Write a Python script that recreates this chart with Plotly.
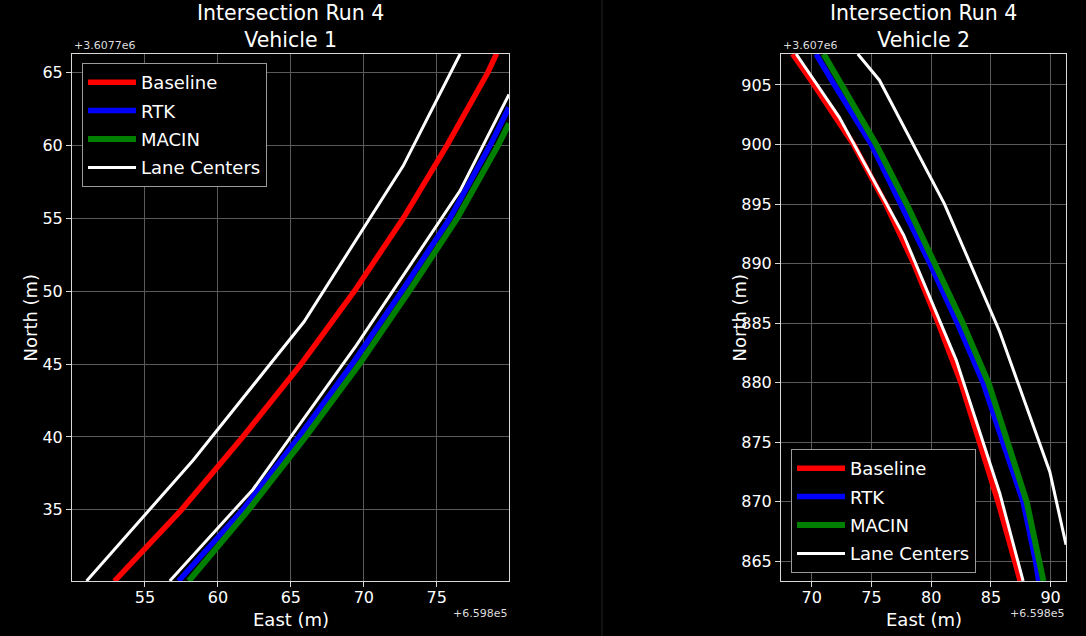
import plotly.graph_objects as go

W, H = 1086, 636

# ---------------- data (offsets: East +6.598e5, North as noted) ----------------
# Vehicle 1 (North offset +3.6077e6)
v1_base_e = [52.9, 57.5, 61.7, 65.7, 69.35, 72.7, 75.7, 78.5, 79.1]
v1_base_n = [30.1, 35.0, 40.0, 45.0, 50.0, 55.0, 60.0, 65.0, 66.3]
v1_rtk_e = [57.3, 61.7, 65.55, 69.2, 72.6, 75.9, 78.65, 79.95]
v1_rtk_n = [30.12, 35.0, 40.0, 45.0, 50.0, 55.0, 60.0, 62.6]
v1_macin_e = [58.0, 62.1, 66.0, 69.7, 73.1, 76.4, 79.2, 79.95]
v1_macin_n = [30.12, 35.0, 40.0, 45.0, 50.0, 55.0, 60.0, 61.5]
v1_lane1_e = [51.0, 58.3, 65.9, 72.7, 76.6]
v1_lane1_n = [30.12, 38.4, 47.9, 58.6, 66.27]
v1_lane2_e = [56.7, 62.4, 69.5, 76.6, 79.95]
v1_lane2_n = [30.12, 36.4, 46.3, 56.9, 63.5]

# Vehicle 2 (North offset +3.607e6)
v2_base_e = [68.4, 70.2, 73.5, 76.2, 78.55, 80.6, 82.5, 84.1, 85.6, 87.0, 87.45]
v2_base_n = [907.6, 905, 900, 895, 890, 885, 880, 875, 870, 865, 863.35]
v2_rtk_e = [70.36, 71.9, 75.0, 77.5, 79.9, 82.2, 84.35, 86.0, 87.7, 88.75, 89.0]
v2_rtk_n = [907.6, 905, 900, 895, 890, 885, 880, 875, 870, 865, 863.35]
v2_macin_e = [71.0, 72.5, 75.4, 77.95, 80.35, 82.65, 84.8, 86.4, 88.0, 89.05, 89.4]
v2_macin_n = [907.6, 905, 900, 895, 890, 885, 880, 875, 870, 865, 863.35]
v2_lane1_e = [68.7, 72.3, 77.7, 82.1, 85.75, 87.7]
v2_lane1_n = [907.6, 902.3, 892.4, 881.9, 870.7, 863.35]
v2_lane2_e = [73.86, 75.67, 81.12, 85.73, 89.94, 91.29]
v2_lane2_n = [907.6, 905.4, 895.0, 884.3, 872.5, 866.4]

series_names = ["Baseline", "RTK", "MACIN", "Lane Centers"]
series_colors = ["#ff0000", "#0000ff", "#008000", "#ffffff"]
series_widths = [5.5, 5.5, 6, 3]

v1_x_ticks = [55, 60, 65, 70, 75]
v1_y_ticks = [35, 40, 45, 50, 55, 60, 65]
v2_x_ticks = [70, 75, 80, 85, 90]
v2_y_ticks = [865, 870, 875, 880, 885, 890, 895, 900, 905]

titles = ["Intersection Run 4<br>Vehicle 1", "Intersection Run 4<br>Vehicle 2"]
x_offset_text = "+6.598e5"
y_offset_texts = ["+3.6077e6", "+3.607e6"]

# ---------------- figure ----------------
FONT = "DejaVu Sans"
fig = go.Figure()

def add_vehicle(data, xa, ya, legend):
    for i, (xs, ys) in enumerate(data[:3]):
        fig.add_trace(go.Scatter(
            x=xs, y=ys, mode="lines", name=series_names[i],
            line=dict(color=series_colors[i], width=series_widths[i]),
            xaxis=xa, yaxis=ya, legend=legend, legendgroup=legend + str(i)))
    lanes = data[3:]
    for j, (xs, ys) in enumerate(lanes):
        fig.add_trace(go.Scatter(
            x=xs, y=ys, mode="lines", name=series_names[3],
            line=dict(color=series_colors[3], width=series_widths[3]),
            xaxis=xa, yaxis=ya, legend=legend, legendgroup=legend + "3",
            showlegend=(j == 0)))

add_vehicle([(v1_base_e, v1_base_n), (v1_rtk_e, v1_rtk_n), (v1_macin_e, v1_macin_n),
             (v1_lane1_e, v1_lane1_n), (v1_lane2_e, v1_lane2_n)], "x", "y", "legend")
add_vehicle([(v2_base_e, v2_base_n), (v2_rtk_e, v2_rtk_n), (v2_macin_e, v2_macin_n),
             (v2_lane1_e, v2_lane1_n), (v2_lane2_e, v2_lane2_n)], "x2", "y2", "legend2")

L1, R1 = 72, 509
L2, R2 = 781, 1066
TOP, BOT = 54, 581

axis_common = dict(
    showline=True, mirror=True, linecolor="#d9d9d9", linewidth=1,
    showgrid=True, gridcolor="#5a5a5a", gridwidth=1, zeroline=False,
    ticks="outside", ticklen=5, tickcolor="#d9d9d9", tickwidth=1,
    tickfont=dict(family=FONT, size=16, color="white"),
)

legend_common = dict(bgcolor="black", bordercolor="#9a9a9a", borderwidth=1,
                     font=dict(family=FONT, size=18, color="white"),
                     itemwidth=48, tracegroupgap=2)

fig.update_layout(
    width=W, height=H,
    paper_bgcolor="black", plot_bgcolor="black",
    margin=dict(l=0, r=0, t=0, b=0),
    font=dict(family=FONT, color="white"),
    xaxis=dict(domain=[L1 / W, R1 / W], anchor="y", range=[50.0, 79.95],
               tickvals=v1_x_ticks, ticklabelstandoff=-3, **axis_common),
    yaxis=dict(domain=[1 - BOT / H, 1 - TOP / H], anchor="x", range=[30.12, 66.27],
               tickvals=v1_y_ticks, **axis_common),
    xaxis2=dict(domain=[L2 / W, R2 / W], anchor="y2", range=[67.43, 91.29],
                tickvals=v2_x_ticks, ticklabelstandoff=-3, **axis_common),
    yaxis2=dict(domain=[1 - BOT / H, 1 - TOP / H], anchor="x2", range=[863.35, 907.6],
                tickvals=v2_y_ticks, **axis_common),
    legend=dict(x=82 / W, y=1 - 63 / H, xanchor="left", yanchor="top", **legend_common),
    legend2=dict(x=791 / W, y=1 - 573 / H, xanchor="left", yanchor="bottom", **legend_common),
    showlegend=True,
)

annotations = []
for (l, r), title, yoff in [((L1, R1), titles[0], y_offset_texts[0]),
                            ((L2, R2), titles[1], y_offset_texts[1])]:
    cx = (l + r) / 2
    annotations.append(dict(text=title, x=cx / W, y=1 - 54 / H, xref="paper", yref="paper",
                            xanchor="center", yanchor="bottom", showarrow=False,
                            font=dict(family=FONT, size=20.5, color="white")))
    annotations.append(dict(text="East (m)", x=cx / W, y=1 - 619 / H, xref="paper", yref="paper",
                            xanchor="center", yanchor="middle", showarrow=False,
                            font=dict(family=FONT, size=18, color="white")))
    annotations.append(dict(text="North (m)", x=(l - 42) / W, y=1 - ((TOP + BOT) / 2) / H,
                            xref="paper", yref="paper", textangle=-90,
                            xanchor="center", yanchor="middle", showarrow=False,
                            font=dict(family=FONT, size=18, color="white")))
    annotations.append(dict(text=yoff, x=l / W, y=1 - 46 / H, xref="paper", yref="paper",
                            xanchor="left", yanchor="middle", showarrow=False,
                            font=dict(family=FONT, size=11, color="#dddddd")))
    annotations.append(dict(text=x_offset_text, x=r / W, y=1 - 613 / H, xref="paper", yref="paper",
                            xanchor="right", yanchor="middle", showarrow=False,
                            font=dict(family=FONT, size=11, color="#dddddd")))
fig.update_layout(annotations=annotations)

fig.add_shape(type="line", xref="paper", yref="paper", x0=602 / W, x1=602 / W, y0=0, y1=1,
              line=dict(color="#222222", width=1))

fig.write_html(
    "out.html", config={"displayModeBar": False},
    post_script="document.body.style.margin='0';document.body.style.padding='0';"
                "document.documentElement.style.background='black';"
                "document.body.style.background='black';",
)
